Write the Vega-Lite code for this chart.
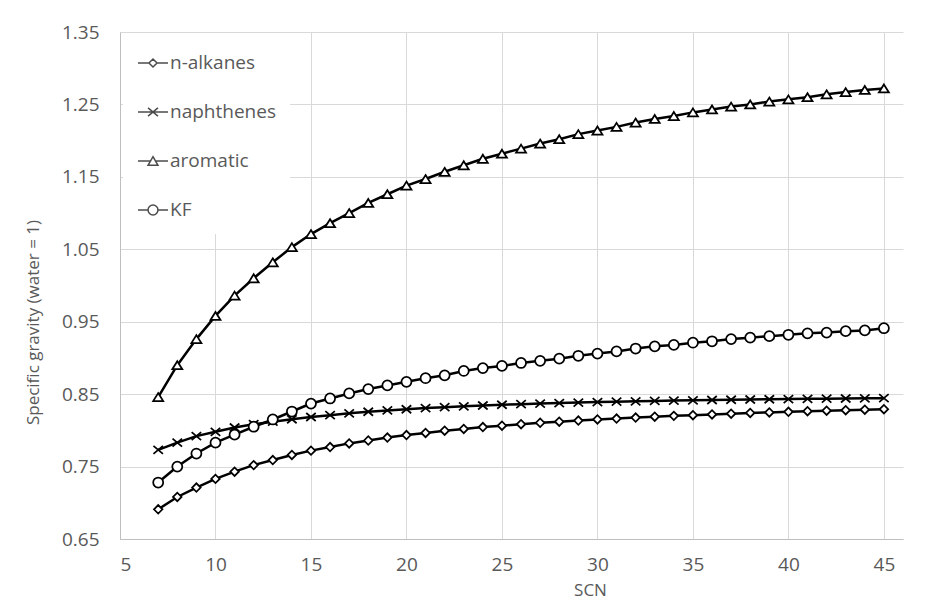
{
  "$schema": "https://vega.github.io/schema/vega-lite/v6.json",
  "width": 783,
  "height": 507,
  "autosize": {"type": "none"},
  "padding": {"left": 120, "top": 32, "right": 45, "bottom": 71},
  "background": "white",
  "config": {
    "font": "Open Sans",
    "view": {"stroke": null},
    "axis": {
      "labelFont": "Open Sans",
      "labelFontSize": 19,
      "labelColor": "#595959",
      "titleFont": "Open Sans",
      "titleFontSize": 17,
      "titleFontWeight": "normal",
      "titleColor": "#595959",
      "gridColor": "#D9D9D9",
      "gridWidth": 1,
      "domainColor": "#BFBFBF",
      "domainWidth": 1,
      "ticks": false
    }
  },
  "data": {
    "values": [
      {"SCN": 7, "n-alkanes": 0.691, "naphthenes": 0.773, "aromatic": 0.846, "KF": 0.728},
      {"SCN": 8, "n-alkanes": 0.708, "naphthenes": 0.783, "aromatic": 0.890, "KF": 0.750},
      {"SCN": 9, "n-alkanes": 0.721, "naphthenes": 0.792, "aromatic": 0.926, "KF": 0.768},
      {"SCN": 10, "n-alkanes": 0.733, "naphthenes": 0.798, "aromatic": 0.958, "KF": 0.783},
      {"SCN": 11, "n-alkanes": 0.743, "naphthenes": 0.804, "aromatic": 0.986, "KF": 0.794},
      {"SCN": 12, "n-alkanes": 0.752, "naphthenes": 0.8085, "aromatic": 1.010, "KF": 0.805},
      {"SCN": 13, "n-alkanes": 0.759, "naphthenes": 0.812, "aromatic": 1.032, "KF": 0.815},
      {"SCN": 14, "n-alkanes": 0.766, "naphthenes": 0.8153, "aromatic": 1.053, "KF": 0.826},
      {"SCN": 15, "n-alkanes": 0.772, "naphthenes": 0.8185, "aromatic": 1.071, "KF": 0.837},
      {"SCN": 16, "n-alkanes": 0.777, "naphthenes": 0.821, "aromatic": 1.086, "KF": 0.844},
      {"SCN": 17, "n-alkanes": 0.782, "naphthenes": 0.8235, "aromatic": 1.100, "KF": 0.851},
      {"SCN": 18, "n-alkanes": 0.786, "naphthenes": 0.8257, "aromatic": 1.114, "KF": 0.857},
      {"SCN": 19, "n-alkanes": 0.790, "naphthenes": 0.8275, "aromatic": 1.126, "KF": 0.862},
      {"SCN": 20, "n-alkanes": 0.7935, "naphthenes": 0.8292, "aromatic": 1.138, "KF": 0.867},
      {"SCN": 21, "n-alkanes": 0.7965, "naphthenes": 0.8307, "aromatic": 1.147, "KF": 0.872},
      {"SCN": 22, "n-alkanes": 0.7995, "naphthenes": 0.832, "aromatic": 1.157, "KF": 0.876},
      {"SCN": 23, "n-alkanes": 0.802, "naphthenes": 0.8332, "aromatic": 1.166, "KF": 0.882},
      {"SCN": 24, "n-alkanes": 0.8045, "naphthenes": 0.8343, "aromatic": 1.175, "KF": 0.886},
      {"SCN": 25, "n-alkanes": 0.8065, "naphthenes": 0.8353, "aromatic": 1.182, "KF": 0.889},
      {"SCN": 26, "n-alkanes": 0.8085, "naphthenes": 0.8362, "aromatic": 1.189, "KF": 0.893},
      {"SCN": 27, "n-alkanes": 0.8105, "naphthenes": 0.837, "aromatic": 1.196, "KF": 0.896},
      {"SCN": 28, "n-alkanes": 0.812, "naphthenes": 0.8377, "aromatic": 1.202, "KF": 0.899},
      {"SCN": 29, "n-alkanes": 0.8135, "naphthenes": 0.8384, "aromatic": 1.209, "KF": 0.903},
      {"SCN": 30, "n-alkanes": 0.815, "naphthenes": 0.839, "aromatic": 1.214, "KF": 0.906},
      {"SCN": 31, "n-alkanes": 0.8163, "naphthenes": 0.8396, "aromatic": 1.219, "KF": 0.909},
      {"SCN": 32, "n-alkanes": 0.8176, "naphthenes": 0.8401, "aromatic": 1.225, "KF": 0.913},
      {"SCN": 33, "n-alkanes": 0.8188, "naphthenes": 0.8406, "aromatic": 1.230, "KF": 0.916},
      {"SCN": 34, "n-alkanes": 0.820, "naphthenes": 0.8411, "aromatic": 1.234, "KF": 0.918},
      {"SCN": 35, "n-alkanes": 0.821, "naphthenes": 0.8415, "aromatic": 1.239, "KF": 0.921},
      {"SCN": 36, "n-alkanes": 0.822, "naphthenes": 0.8419, "aromatic": 1.243, "KF": 0.923},
      {"SCN": 37, "n-alkanes": 0.823, "naphthenes": 0.8423, "aromatic": 1.247, "KF": 0.926},
      {"SCN": 38, "n-alkanes": 0.824, "naphthenes": 0.8426, "aromatic": 1.250, "KF": 0.928},
      {"SCN": 39, "n-alkanes": 0.8248, "naphthenes": 0.8429, "aromatic": 1.254, "KF": 0.930},
      {"SCN": 40, "n-alkanes": 0.8256, "naphthenes": 0.8432, "aromatic": 1.257, "KF": 0.932},
      {"SCN": 41, "n-alkanes": 0.8264, "naphthenes": 0.8435, "aromatic": 1.260, "KF": 0.934},
      {"SCN": 42, "n-alkanes": 0.8272, "naphthenes": 0.8438, "aromatic": 1.264, "KF": 0.935},
      {"SCN": 43, "n-alkanes": 0.8279, "naphthenes": 0.844, "aromatic": 1.267, "KF": 0.937},
      {"SCN": 44, "n-alkanes": 0.8286, "naphthenes": 0.8442, "aromatic": 1.270, "KF": 0.938},
      {"SCN": 45, "n-alkanes": 0.8292, "naphthenes": 0.8444, "aromatic": 1.272, "KF": 0.941}
    ]
  },
  "transform": [
    {"fold": ["n-alkanes", "naphthenes", "aromatic", "KF"], "as": ["series", "sg"]}
  ],
  "encoding": {
    "x": {
      "field": "SCN",
      "type": "quantitative",
      "scale": {"domain": [5, 46], "nice": false, "zero": false},
      "axis": {
        "values": [5, 10, 15, 20, 25, 30, 35, 40, 45],
        "labelPadding": 16,
        "title": "SCN",
        "titleX": 470,
        "titleY": 51,
        "titleBaseline": "middle"
      }
    },
    "y": {
      "field": "sg",
      "type": "quantitative",
      "scale": {"domain": [0.65, 1.35], "nice": false, "zero": false},
      "axis": {
        "values": [0.65, 0.75, 0.85, 0.95, 1.05, 1.15, 1.25, 1.35],
        "format": ".2f",
        "labelPadding": 21,
        "title": "Specific gravity (water = 1)",
        "titleX": -87,
        "titleY": 290,
        "titleAngle": -90,
        "titleBaseline": "middle",
        "titleAlign": "center"
      }
    }
  },
  "layer": [
    {
      "mark": {"type": "line", "color": "black", "strokeWidth": 2.5},
      "encoding": {"detail": {"field": "series"}}
    },
    {
      "mark": {"type": "point", "filled": true, "fill": "white", "stroke": "black", "strokeWidth": 1.75, "opacity": 1, "size": 100},
      "encoding": {
        "shape": {
          "field": "series",
          "type": "nominal",
          "scale": {
            "domain": ["n-alkanes", "naphthenes", "aromatic", "KF"],
            "range": [
              "M-0.85,0L0,-0.85L0.85,0L0,0.85Z",
              "M-0.95,-0.8L0.95,0.8M-0.95,0.8L0.95,-0.8",
              "M0,-0.8L1,0.8L-1,0.8Z",
              "circle"
            ]
          },
          "legend": null
        }
      }
    },
    {
      "transform": [{"filter": "datum.SCN < 0"}],
      "mark": {"type": "point", "filled": true, "fill": "white", "stroke": "black", "strokeWidth": 2.5, "size": 900},
      "encoding": {
        "shape": {
          "field": "series",
          "type": "nominal",
          "scale": {
            "domain": ["n-alkanes", "naphthenes", "aromatic", "KF"],
            "range": [
              "M-1,0L-0.27,0M0.27,0L1,0M-0.27,0L0,-0.27L0.27,0L0,0.27Z",
              "M-1,0L1,0M-0.33,-0.27L0.33,0.27M-0.33,0.27L0.33,-0.27",
              "M-1,0L-0.17,0M0.17,0L1,0M0,-0.29L0.33,0.29L-0.33,0.29Z",
              "M-1,0L-0.33,0M0.33,0L1,0M-0.33,0A0.33,0.33,0,1,1,0.33,0A0.33,0.33,0,1,1,-0.33,0Z"
            ]
          },
          "legend": {
            "title": null,
            "orient": "none",
            "legendX": 3,
            "legendY": 1,
            "padding": 14,
            "fillColor": "white",
            "labelFont": "Open Sans",
            "labelFontSize": 19,
            "labelColor": "#595959",
            "labelOffset": 1,
            "rowPadding": 23,
            "symbolSize": 900
          }
        }
      }
    }
  ],
  "resolve": {"scale": {"shape": "independent"}, "legend": {"shape": "independent"}}
}
